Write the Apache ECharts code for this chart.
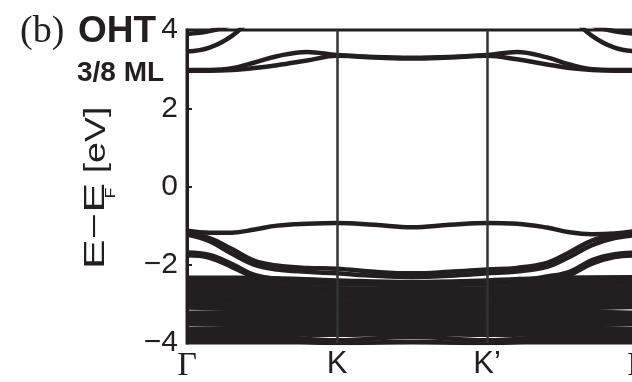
<!DOCTYPE html>
<html>
<head>
<meta charset="utf-8">
<script src="https://cdn.jsdelivr.net/npm/echarts@6/dist/echarts.min.js"></script>
<style>
html,body{margin:0;padding:0;background:#fff;}
#chart{width:632px;height:382px;}
</style>
</head>
<body>
<div id="chart"></div>
<script>
// ---- tick labels ----
const kTickLabels = ['Γ', 'K', 'K’', 'Γ'];
const yTicks = [-4, -2, 0, 2, 4];

// ---- k grid for the distinct bands (Γ=0, K=1, K'=2, Γ=3) ----
const kMain = [0, 0.15, 0.3, 0.45, 0.6, 0.8, 1, 1.25, 1.5, 1.75, 2, 2.2, 2.4, 2.55, 2.7, 2.85, 3];

// conduction bands
const cbA  = [3.90, 3.97, 4.15, 4.50, 4.80, 4.90, 4.90, 4.90, 4.90, 4.90, 4.90, 4.90, 4.80, 4.50, 4.12, 3.97, 3.90];
const cbB  = [3.45, 3.55, 3.85, 4.36, 4.80, 4.90, 4.90, 4.90, 4.90, 4.90, 4.90, 4.90, 4.80, 4.36, 3.85, 3.55, 3.45];
const cb1  = [2.98, 2.98, 3.02, 3.17, 3.33, 3.44, 3.36, 3.31, 3.29, 3.31, 3.36, 3.44, 3.30, 3.12, 3.00, 2.98, 2.98];
const cb2  = [2.96, 2.96, 2.98, 3.03, 3.10, 3.22, 3.34, 3.30, 3.27, 3.30, 3.34, 3.25, 3.12, 3.03, 2.98, 2.96, 2.96];

// valence bands above the dense manifold
const vb1  = [-1.13, -1.18, -1.18, -1.10, -1.00, -0.95, -0.93, -0.98, -1.04, -0.98, -0.93, -0.95, -1.05, -1.17, -1.22, -1.20, -1.13];
const vb2a = [-1.20, -1.32, -1.60, -1.90, -2.02, -2.08, -2.10, -2.18, -2.22, -2.18, -2.12, -2.08, -1.95, -1.68, -1.38, -1.26, -1.20];
const vb2b = [-1.23, -1.40, -1.72, -2.00, -2.12, -2.18, -2.22, -2.28, -2.31, -2.28, -2.22, -2.17, -2.05, -1.80, -1.50, -1.32, -1.24];
const vb3a = [-1.69, -1.75, -1.98, -2.26, -2.36, -2.40, -2.42, -2.45, -2.46, -2.45, -2.42, -2.40, -2.30, -2.18, -1.88, -1.73, -1.69];
const vb3b = [-1.76, -1.82, -2.06, -2.32, -2.42, -2.46, -2.48, -2.50, -2.52, -2.50, -2.48, -2.46, -2.38, -2.26, -1.97, -1.80, -1.76];

// ---- dense valence manifold ----
const kDense = [0, 0.5, 1, 1.5, 2, 2.5, 3];
const d01 = [-2.33, -2.34, -2.40, -2.44, -2.40, -2.33, -2.32];
const d02 = [-2.41, -2.44, -2.49, -2.52, -2.49, -2.43, -2.40];
const d03 = [-2.49, -2.53, -2.60, -2.62, -2.60, -2.52, -2.48];
const d04 = [-2.57, -2.62, -2.68, -2.70, -2.68, -2.61, -2.57];
const d05 = [-2.66, -2.70, -2.76, -2.79, -2.76, -2.70, -2.66];
const d06 = [-2.75, -2.79, -2.84, -2.86, -2.84, -2.78, -2.75];
const d07 = [-2.84, -2.87, -2.93, -2.95, -2.93, -2.87, -2.84];
const d08 = [-2.93, -2.96, -3.01, -3.03, -3.01, -2.95, -2.92];
const d09 = [-3.02, -3.05, -3.09, -3.11, -3.09, -3.04, -3.01];
const d10 = [-3.09, -3.13, -3.17, -3.19, -3.17, -3.12, -3.08];
const d11 = [-3.23, -3.21, -3.25, -3.27, -3.25, -3.20, -3.23];
const d12 = [-3.31, -3.29, -3.33, -3.35, -3.33, -3.28, -3.31];
const d13 = [-3.39, -3.37, -3.41, -3.43, -3.41, -3.37, -3.39];
const d14 = [-3.46, -3.45, -3.49, -3.51, -3.49, -3.45, -3.46];
const d15 = [-3.52, -3.53, -3.57, -3.58, -3.57, -3.53, -3.52];
const d16 = [-3.65, -3.61, -3.64, -3.66, -3.64, -3.61, -3.65];
const d17 = [-3.73, -3.69, -3.72, -3.74, -3.72, -3.69, -3.73];
const d18 = [-3.81, -3.77, -3.79, -3.76, -3.79, -3.77, -3.81];
const d19 = [-3.89, -3.84, -3.93, -3.84, -3.93, -3.84, -3.89];
const d20 = [-3.97, -3.93, -4.00, -3.97, -4.00, -3.93, -3.97];

const INK = '#231f20';
const mainBands = [cbA, cbB, cb1, cb2, vb1, vb2a, vb2b, vb3a, vb3b];
const denseBands = [d01, d02, d03, d04, d05, d06, d07, d08, d09, d10, d11, d12, d13, d14, d15, d16, d17, d18, d19, d20];

function bandSeries(ks, vals) {
  return {
    type: 'line',
    data: ks.map((k, i) => [k, vals[i]]),
    smooth: 0.4,
    showSymbol: false,
    silent: true,
    clip: true,
    lineStyle: { color: INK, width: 4.5 },
    z: 3
  };
}

const series = [];
// vertical K / K' lines
series.push({
  type: 'line', data: [], silent: true,
  markLine: {
    symbol: 'none', silent: true, animation: false,
    label: { show: false },
    lineStyle: { color: '#333', width: 2.5, type: 'solid' },
    data: [{ xAxis: 1 }, { xAxis: 2 }]
  },
  z: 2
});
mainBands.forEach(b => series.push(bandSeries(kMain, b)));
denseBands.forEach(b => series.push(bandSeries(kDense, b)));

const chart = echarts.init(document.getElementById('chart'), null, { renderer: 'canvas' });
chart.setOption({
  animation: false,
  backgroundColor: '#fff',
  grid: {
    left: 187, top: 30, right: -5, bottom: 39,
    containLabel: false,
    outerBoundsMode: 'none',
    show: true, borderColor: INK, borderWidth: 3, backgroundColor: 'transparent'
  },
  xAxis: {
    type: 'value', min: 0, max: 3, interval: 1,
    axisLine: { show: false },
    axisTick: { show: false },
    splitLine: { show: false },
    axisLabel: {
      margin: 6,
      color: INK,
      formatter: v => {
        const t = kTickLabels[Math.round(v)];
        return t === 'Γ' ? '{g|' + t + '}' : '{s|' + t + '}';
      },
      rich: {
        g: { fontFamily: 'Liberation Serif', fontSize: 34, color: INK },
        s: { fontFamily: 'Liberation Sans', fontSize: 31, color: INK }
      }
    }
  },
  yAxis: {
    type: 'value', min: yTicks[0], max: yTicks[yTicks.length - 1], interval: 2,
    axisLine: { show: true, lineStyle: { color: INK, width: 3 } },
    axisTick: { show: true, inside: true, length: 5, lineStyle: { color: INK, width: 2 } },
    splitLine: { show: false },
    axisLabel: {
      margin: 9, color: INK, fontFamily: 'Liberation Sans', fontSize: 30,
      formatter: v => String(v).replace('-', '−')
    }
  },
  graphic: [
    { type: 'text', x: 20, y: 32, style: { text: '(b)', fill: INK, font: '38px "Liberation Serif"', align: 'left', verticalAlign: 'middle' } },
    { type: 'text', x: 78, y: 32, style: { text: 'OHT', fill: INK, font: 'bold 37px "Liberation Sans"', align: 'left', verticalAlign: 'middle' } },
    { type: 'text', x: 77, y: 73, style: { text: '3/8 ML', fill: INK, font: 'bold 28px "Liberation Sans"', align: 'left', verticalAlign: 'middle' } },
    { type: 'text', x: 96, y: 226, rotation: Math.PI / 2, scaleX: 1.5, style: { text: 'E−E', fill: INK, font: '30px "Liberation Sans"', align: 'center', verticalAlign: 'middle' } },
    { type: 'text', x: 111, y: 193, rotation: Math.PI / 2, scaleX: 1.2, style: { text: 'F', fill: INK, font: '15px "Liberation Sans"', align: 'center', verticalAlign: 'middle' } },
    { type: 'text', x: 97, y: 140, rotation: Math.PI / 2, scaleX: 1.25, style: { text: '[eV]', fill: INK, font: '30px "Liberation Sans"', align: 'center', verticalAlign: 'middle' } }
  ],
  series: series
});
</script>
</body>
</html>
